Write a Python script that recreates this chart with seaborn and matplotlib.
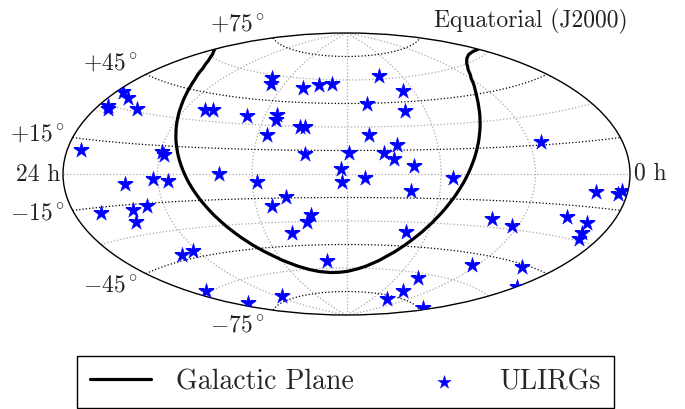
import numpy as np
import pandas as pd
import matplotlib
matplotlib.use("Agg")
import matplotlib.pyplot as plt
import seaborn as sns

# ULIRG positions, degrees (J2000)
ulirg_ra = [256.5,252.7,355.5,346.5,353.5,351.5,332.4,285.7,280.2,252.6,231.6,230.8,234.0,351.4,299.3,297.3,
            260.8,302.8,293.3,237.1,320.9,219.5,229.1,310.8,321.0,342.7,323.8,303.1,314.8,348.5,350.4,293.0,
            220.2,144.0,220.7,206.8,194.4,129.4,163.3,135.2,212.5,208.8,164.9,146.6,155.7,207.0,178.6,149.4,
            136.8,183.7,112.1,168.2,182.7,138.6,204.2,207.5,136.3,198.8,63.7,96.1,91.3,90.4,6.8,52.2,20.1,
            3.6,5.9,31.5,80.6,16.2,63.8,13.7,12.4,25.5,0.1]
ulirg_dec = [58.1,54.7,36.5,34.7,29.8,28.7,31.1,35.9,36.4,34.8,36.4,33.5,24.0,10.3,11.8,10.0,0.2,-2.8,-3.8,-4.7,
             -4.9,-14.6,-19.8,-16.4,-17.7,-17.7,-23.4,-41.6,-42.6,-59.0,-69.1,-72.6,-36.8,61.9,53.9,56.4,57.3,
             51.5,44.6,39.5,29.4,29.5,25.0,18.1,13.5,12.5,13.6,9.3,5.2,3.2,-2.6,-2.4,-4.9,-10.4,-26.0,-30.2,
             -36.2,-55.2,-51.1,-63.1,-71.1,-77.2,-74.2,16.7,-8.3,-6.9,-8.5,-20.6,-25.3,-22.2,-28.2,-26.7,-29.1,
             -46.1,-53.1]

# galactic plane, denser where it runs steep
plane_ra = [360,350,340,330,320,315,310,305,300,295,290,285,280,275,270,265,260,255,250,240,230,220,210,200,190,180,
            170,160,150,140,135,130,125,120,115,110,105,100,95,90,85,80,75,70,60,50,40,30,20,10,0]
plane_dec = [62.3,60.9,58.6,55.1,49.7,46.1,41.7,36.4,29.9,22.3,13.6,4.2,-5.6,-14.9,-23.5,-30.9,-37.2,-42.4,-46.6,
             -53.0,-57.3,-60.1,-61.8,-62.7,-62.8,-62.3,
             -60.9,-58.6,-55.1,-49.7,-46.1,-41.7,-36.4,-29.9,-22.3,-13.6,-4.2,5.6,14.9,23.5,30.9,37.2,42.4,46.6,
             53.0,57.3,60.1,61.8,62.7,62.8,62.3]

black_parallels = [-75, -45, -15, 15, 45, 75]
lat_labels = [r"$+75^\circ$", r"$+45^\circ$", r"$+15^\circ$", r"$-15^\circ$", r"$-45^\circ$", r"$-75^\circ$"]
lat_label_xy = [(265, 25), (138, 64), (65, 135), (65, 213), (138, 285), (265, 325)]

sns.set_style("white")
plt.rcParams["font.family"] = ["cmr10", "DejaVu Sans"]
plt.rcParams["mathtext.fontset"] = "cm"
plt.rcParams["axes.formatter.use_mathtext"] = True

W, H = 685, 409
fig = plt.figure(figsize=(W / 100, H / 100), dpi=100)
ax = fig.add_axes([63 / W, 1 - 315 / H, 567 / W, 282 / H], projection="aitoff")
ax.set_aspect("auto")

# RA runs backwards, 24 h on the left
stars = pd.DataFrame({"lon": np.radians(180 - np.array(ulirg_ra)), "lat": np.radians(ulirg_dec)})
plane = pd.DataFrame({"lon": np.radians(180 - np.array(plane_ra)), "lat": np.radians(plane_dec)})

ax.set_longitude_grid(60)
ax.set_latitude_grid(30)
ax.set_longitude_grid_ends(89.9)
ax.grid(True, color="#aaaaaa", linestyle=":", linewidth=0.9)
ax.set_xticklabels([])
ax.set_yticklabels([])

lons = np.linspace(-np.pi, np.pi, 200)
for lat in black_parallels:
    ax.plot(lons, np.full_like(lons, np.radians(lat)), color="black", linestyle=":", linewidth=0.9, zorder=1)

sns.lineplot(data=plane, x="lon", y="lat", sort=False, estimator=None, color="black", linewidth=2.3,
             ax=ax, label="Galactic Plane", zorder=3)
sns.scatterplot(data=stars, x="lon", y="lat", marker="*", s=140, color="blue", edgecolor="blue", linewidth=0.3,
                ax=ax, label="ULIRGs", zorder=4)
ax.set_xlabel("")
ax.set_ylabel("")
for sp in ax.spines.values():
    sp.set_edgecolor("black")
    sp.set_linewidth(1.0)

ax.legend(ncol=2, loc="center", bbox_to_anchor=(345.5 / W, 1 - 382 / H), bbox_transform=fig.transFigure,
          fontsize=20, frameon=True, fancybox=False, framealpha=1, edgecolor="black", borderpad=0.47,
          handlelength=2.2, columnspacing=2.13, handletextpad=0.9, borderaxespad=0, markerscale=0.85)

for txt, (x, y) in zip(lat_labels, lat_label_xy):
    fig.text(x / W, 1 - y / H, txt, ha="right", va="center", fontsize=17, color="#222222")
fig.text(16 / W, 1 - 175 / H, "24 h", ha="left", va="center", fontsize=17, color="#222222")
fig.text(634 / W, 1 - 173 / H, "0 h", ha="left", va="center", fontsize=17, color="#222222")
fig.text(628 / W, 1 - 21 / H, "Equatorial (J2000)", ha="right", va="center", fontsize=17, color="#222222")

fig.savefig("out.png", dpi=100)
